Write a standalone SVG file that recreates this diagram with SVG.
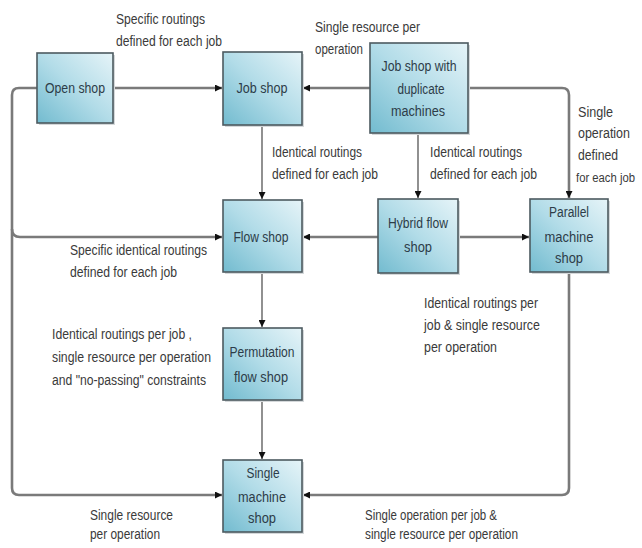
<svg xmlns="http://www.w3.org/2000/svg" width="642" height="548" viewBox="0 0 642 548">
<defs>
<linearGradient id="g" x1="0" y1="1" x2="1" y2="0">
<stop offset="0" stop-color="#72bbcf"/>
<stop offset="0.5" stop-color="#b2dce8"/>
<stop offset="1" stop-color="#e6f4f8"/>
</linearGradient>
<marker id="a" viewBox="0 0 10 10" refX="10" refY="5" markerWidth="7" markerHeight="7" markerUnits="userSpaceOnUse" orient="auto">
<path d="M0,0 L10,5 L0,10 Z" fill="#111"/>
</marker>
<style>
.box{fill:url(#g);stroke:#4d5a60;stroke-width:1.6}
.sh{fill:#d4d8da}
.nt{font-family:"Liberation Sans Narrow","Liberation Sans",Arial,sans-serif;font-size:14px;fill:#2d3c48;text-anchor:middle}
.lb{font-family:"Liberation Sans Narrow","Liberation Sans",Arial,sans-serif;font-size:14px;fill:#3a3a3a}
.thick{fill:none;stroke:#7a7a7a;stroke-width:2.6}
.thin{fill:none;stroke:#555;stroke-width:1.3}
</style>
</defs>
<rect width="642" height="548" fill="#fff"/>

<g id="connectors">
<path class="thick" d="M113,88 H222" marker-end="url(#a)"/>
<path class="thick" d="M370,88 H303" marker-end="url(#a)"/>
<path class="thick" d="M468,88 H562 Q569,88 569,95 V198" marker-end="url(#a)"/>
<path class="thin" d="M418,133 V198" marker-end="url(#a)"/>
<path class="thin" d="M262,125 V199" marker-end="url(#a)"/>
<path class="thick" d="M378,237 H303" marker-end="url(#a)"/>
<path class="thick" d="M458,237 H529" marker-end="url(#a)"/>
<path class="thin" d="M262,272 V327" marker-end="url(#a)"/>
<path class="thin" d="M262,400 V459" marker-end="url(#a)"/>
<path class="thick" d="M37,88 H19 Q12,88 12,95 V488 Q12,495 19,495 H222" marker-end="url(#a)"/>
<path class="thick" d="M12,229 Q12,237 20,237 H222" marker-end="url(#a)"/>
<path class="thick" d="M569,272 V488 Q569,495 562,495 H303" marker-end="url(#a)"/>
</g>

<g id="open-shop">
<rect class="sh" x="39" y="55" width="76" height="70"/>
<rect class="box" x="37" y="53" width="76" height="70"/>
<text class="nt" x="75" y="93" textLength="60" lengthAdjust="spacingAndGlyphs">Open shop</text>
</g>
<g id="job-shop">
<rect class="sh" x="225" y="54" width="79" height="73"/>
<rect class="box" x="223" y="52" width="79" height="73"/>
<text class="nt" x="262" y="93" textLength="51" lengthAdjust="spacingAndGlyphs">Job shop</text>
</g>
<g id="job-shop-dup">
<rect class="sh" x="372" y="45" width="98" height="90"/>
<rect class="box" x="370" y="43" width="98" height="90"/>
<text class="nt" x="419" y="71" textLength="75" lengthAdjust="spacingAndGlyphs">Job shop with</text>
<text class="nt" x="421" y="94" textLength="47" lengthAdjust="spacingAndGlyphs">duplicate</text>
<text class="nt" x="418" y="116" textLength="54" lengthAdjust="spacingAndGlyphs">machines</text>
</g>
<g id="flow-shop">
<rect class="sh" x="225" y="202" width="79" height="72"/>
<rect class="box" x="223" y="200" width="79" height="72"/>
<text class="nt" x="261" y="242" textLength="55" lengthAdjust="spacingAndGlyphs">Flow shop</text>
</g>
<g id="hybrid-flow-shop">
<rect class="sh" x="380" y="201" width="80" height="74"/>
<rect class="box" x="378" y="199" width="80" height="74"/>
<text class="nt" x="418" y="228" textLength="60" lengthAdjust="spacingAndGlyphs">Hybrid flow</text>
<text class="nt" x="418" y="252" textLength="28" lengthAdjust="spacingAndGlyphs">shop</text>
</g>
<g id="parallel-machine-shop">
<rect class="sh" x="532" y="201" width="78" height="73"/>
<rect class="box" x="530" y="199" width="78" height="73"/>
<text class="nt" x="569" y="217" textLength="40" lengthAdjust="spacingAndGlyphs">Parallel</text>
<text class="nt" x="569" y="242" textLength="49" lengthAdjust="spacingAndGlyphs">machine</text>
<text class="nt" x="569" y="263" textLength="28" lengthAdjust="spacingAndGlyphs">shop</text>
</g>
<g id="permutation-flow-shop">
<rect class="sh" x="225" y="330" width="79" height="72"/>
<rect class="box" x="223" y="328" width="79" height="72"/>
<text class="nt" x="262" y="357" textLength="65" lengthAdjust="spacingAndGlyphs">Permutation</text>
<text class="nt" x="261" y="382" textLength="54" lengthAdjust="spacingAndGlyphs">flow shop</text>
</g>
<g id="single-machine-shop">
<rect class="sh" x="225" y="462" width="79" height="72"/>
<rect class="box" x="223" y="460" width="79" height="72"/>
<text class="nt" x="263" y="478" textLength="33" lengthAdjust="spacingAndGlyphs">Single</text>
<text class="nt" x="262" y="502" textLength="48" lengthAdjust="spacingAndGlyphs">machine</text>
<text class="nt" x="262" y="523" textLength="28" lengthAdjust="spacingAndGlyphs">shop</text>
</g>

<g id="labels">
<text class="lb" x="116" y="24" textLength="89" lengthAdjust="spacingAndGlyphs">Specific routings</text>
<text class="lb" x="116" y="46" textLength="106" lengthAdjust="spacingAndGlyphs">defined for each job</text>
<text class="lb" x="315" y="32" textLength="105" lengthAdjust="spacingAndGlyphs">Single resource per</text>
<text class="lb" x="315" y="54" textLength="48" lengthAdjust="spacingAndGlyphs">operation</text>
<text class="lb" x="272" y="157" textLength="90" lengthAdjust="spacingAndGlyphs">Identical routings</text>
<text class="lb" x="272" y="179" textLength="106" lengthAdjust="spacingAndGlyphs">defined for each job</text>
<text class="lb" x="430" y="157" textLength="92" lengthAdjust="spacingAndGlyphs">Identical routings</text>
<text class="lb" x="430" y="179" textLength="107" lengthAdjust="spacingAndGlyphs">defined for each job</text>
<text class="lb" x="578" y="117" textLength="35" lengthAdjust="spacingAndGlyphs">Single</text>
<text class="lb" x="578" y="138" textLength="52" lengthAdjust="spacingAndGlyphs">operation</text>
<text class="lb" x="578" y="160" textLength="40" lengthAdjust="spacingAndGlyphs">defined</text>
<text class="lb" x="576" y="182" style="font-size:12px" textLength="59" lengthAdjust="spacingAndGlyphs">for each job</text>
<text class="lb" x="70" y="255" textLength="137" lengthAdjust="spacingAndGlyphs">Specific identical routings</text>
<text class="lb" x="70" y="277" textLength="107" lengthAdjust="spacingAndGlyphs">defined for each job</text>
<text class="lb" x="424" y="308" textLength="114" lengthAdjust="spacingAndGlyphs">Identical routings per</text>
<text class="lb" x="424" y="330" textLength="116" lengthAdjust="spacingAndGlyphs">job &amp; single resource</text>
<text class="lb" x="424" y="352" textLength="73" lengthAdjust="spacingAndGlyphs">per operation</text>
<text class="lb" x="52" y="339" textLength="140" lengthAdjust="spacingAndGlyphs">Identical routings per job ,</text>
<text class="lb" x="52" y="362" textLength="159" lengthAdjust="spacingAndGlyphs">single resource per operation</text>
<text class="lb" x="52" y="385" textLength="154" lengthAdjust="spacingAndGlyphs">and "no-passing" constraints</text>
<text class="lb" x="90" y="520" textLength="83" lengthAdjust="spacingAndGlyphs">Single resource</text>
<text class="lb" x="90" y="539" textLength="70" lengthAdjust="spacingAndGlyphs">per operation</text>
<text class="lb" x="365" y="520" textLength="132" lengthAdjust="spacingAndGlyphs">Single operation per job  &amp;</text>
<text class="lb" x="365" y="539" textLength="153" lengthAdjust="spacingAndGlyphs">single resource per operation</text>
</g>
</svg>
